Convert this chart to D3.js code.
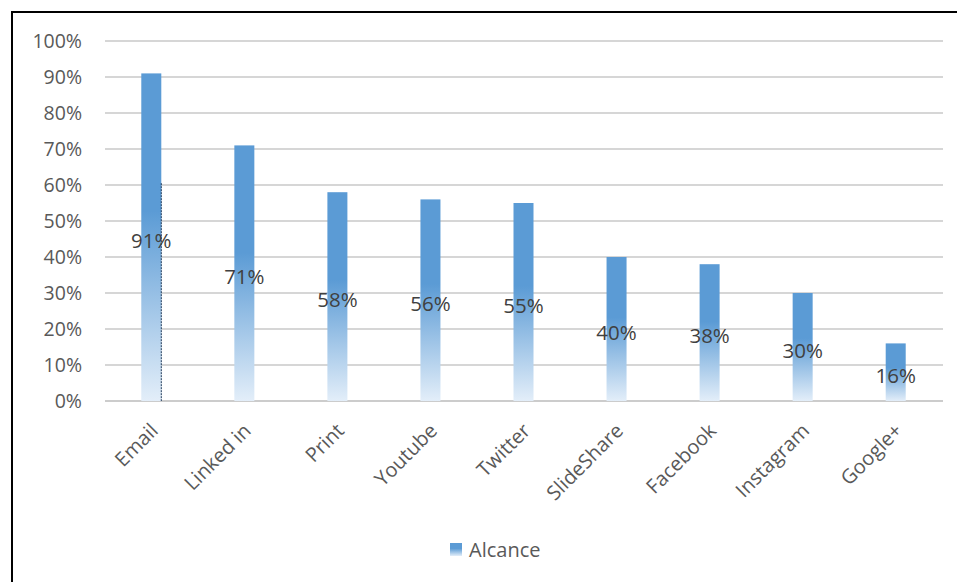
<!DOCTYPE html>
<html>
<head>
<meta charset="utf-8">
<script src="https://cdn.jsdelivr.net/npm/d3@7"></script>
<style>
    body { margin: 0; background: #fff; }
    svg { display: block; }
</style>
</head>
<body>
<div id="chart"></div>
<script>
// Chart values
const categories = ["Email", "Linked in", "Print", "Youtube", "Twitter", "SlideShare", "Facebook", "Instagram", "Google+"];
const alcance = [91, 71, 58, 56, 55, 40, 38, 30, 16];
const yTicks = [0, 10, 20, 30, 40, 50, 60, 70, 80, 90, 100];
const seriesName = "Alcance";

const width = 957;
const height = 582;
const margin = { top: 41, right: 14, bottom: 181, left: 105 };
const font = "'Open Sans', 'Noto Sans', sans-serif";

const svg = d3.select("#chart")
    .append("svg")
    .attr("width", width)
    .attr("height", height);

// Gradient fill used by bars and legend
const defs = svg.append("defs");
const grad = defs.append("linearGradient")
    .attr("id", "barGrad")
    .attr("x1", 0).attr("y1", 0)
    .attr("x2", 0).attr("y2", 1);
grad.append("stop").attr("offset", "0%").attr("stop-color", "#5B9BD5");
grad.append("stop").attr("offset", "42%").attr("stop-color", "#5B9BD5");
grad.append("stop").attr("offset", "100%").attr("stop-color", "#E3EEF9");

// Frame (top and left edges only)
svg.append("line")
    .attr("x1", 11).attr("y1", 12).attr("x2", width).attr("y2", 12)
    .attr("stroke", "#000").attr("stroke-width", 2);
svg.append("line")
    .attr("x1", 12).attr("y1", 11).attr("x2", 12).attr("y2", height)
    .attr("stroke", "#000").attr("stroke-width", 2);

// Scales
const x = d3.scaleBand()
    .domain(categories)
    .range([margin.left, width - margin.right - 1])
    .paddingInner(0.785)
    .paddingOuter(0.39);

const y = d3.scaleLinear()
    .domain([0, 100])
    .range([height - margin.bottom, margin.top]);

// Gridlines
svg.append("g")
    .selectAll("line")
    .data(yTicks)
    .join("line")
    .attr("x1", margin.left)
    .attr("x2", width - margin.right)
    .attr("y1", (d) => y(d))
    .attr("y2", (d) => y(d))
    .attr("stroke", (d) => (d === 0 ? "#CCCCCC" : "#D6D6D6"))
    .attr("stroke-width", 2);

// Y axis labels
const yAxis = svg.append("g")
    .attr("transform", `translate(${margin.left - 23},0)`)
    .call(d3.axisLeft(y).tickValues(yTicks).tickFormat((d) => d + "%").tickSize(0).tickPadding(0));
yAxis.select(".domain").remove();
yAxis.selectAll("text")
    .attr("font-family", font)
    .attr("font-size", "19.5px")
    .attr("fill", "#595959");

// Bars
svg.selectAll(".bar")
    .data(alcance)
    .join("rect")
    .attr("class", "bar")
    .attr("x", (d, i) => x(categories[i]))
    .attr("y", (d) => y(d))
    .attr("width", x.bandwidth())
    .attr("height", (d) => y(0) - y(d))
    .attr("fill", "url(#barGrad)");

// Thin dashed mark on the right edge of the first bar
svg.append("line")
    .attr("x1", x(categories[0]) + x.bandwidth())
    .attr("x2", x(categories[0]) + x.bandwidth())
    .attr("y1", y(60.5))
    .attr("y2", y(0))
    .attr("stroke", "#1F3A5A")
    .attr("stroke-width", 1)
    .attr("stroke-dasharray", "2,1");

// Value labels centred in each bar
svg.selectAll(".value")
    .data(alcance)
    .join("text")
    .attr("class", "value")
    .attr("x", (d, i) => x(categories[i]) + x.bandwidth() / 2)
    .attr("y", (d) => (y(d) + y(0)) / 2)
    .attr("dy", "0.52em")
    .attr("text-anchor", "middle")
    .attr("font-family", font)
    .attr("font-size", "20.5px")
    .attr("fill", "#404040")
    .text((d) => d + "%");

// X axis labels, rotated
const xAxis = svg.append("g")
    .attr("transform", `translate(0,${y(0)})`)
    .call(d3.axisBottom(x).tickSize(0).tickPadding(0));
xAxis.select(".domain").remove();
xAxis.selectAll("text")
    .attr("font-family", font)
    .attr("font-size", "20px")
    .attr("fill", "#595959")
    .attr("text-anchor", "end")
    .attr("dy", "0.35em")
    .attr("transform", "translate(3,26) rotate(-45)");

// Legend
const legend = svg.append("g").attr("transform", "translate(450,543)");
legend.append("rect")
    .attr("width", 12).attr("height", 13)
    .attr("fill", "url(#barGrad)");
legend.append("text")
    .attr("x", 19).attr("y", 7)
    .attr("dy", "0.36em")
    .attr("font-family", font)
    .attr("font-size", "20px")
    .attr("fill", "#595959")
    .text(seriesName);
</script>
</body>
</html>
